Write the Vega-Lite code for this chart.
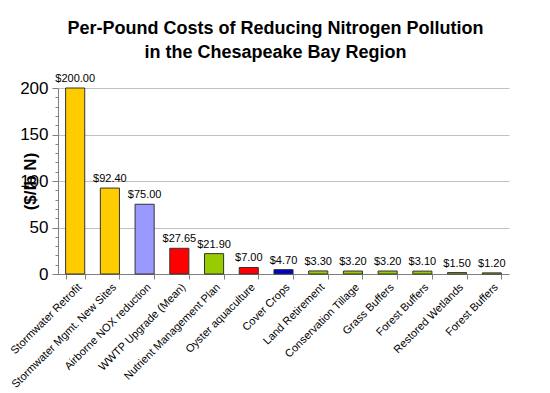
{
  "$schema": "https://vega.github.io/schema/vega-lite/v6.json",
  "autosize": "none",
  "width": 451,
  "height": 186,
  "padding": {"left": 58, "top": 88, "right": 41, "bottom": 119},
  "background": "white",
  "config": {
    "view": {"stroke": null},
    "font": "Liberation Sans"
  },
  "title": {
    "text": ["Per-Pound Costs of Reducing Nitrogen Pollution", "in the Chesapeake Bay Region"],
    "font": "Liberation Sans",
    "fontSize": 18,
    "fontWeight": "bold",
    "color": "black",
    "lineHeight": 24,
    "offset": 11,
    "anchor": "middle",
    "dx": -8
  },
  "data": {
    "values": [
      {"key": "Stormwater Retrofit|1", "cost": 200.0, "color": "#FFCC00"},
      {"key": "Stormwater Mgmt. New Sites|2", "cost": 92.4, "color": "#FFCC00"},
      {"key": "Airborne NOX reduction|3", "cost": 75.0, "color": "#9999FF"},
      {"key": "WWTP Upgrade (Mean)|4", "cost": 27.65, "color": "#FF0000"},
      {"key": "Nutrient Management Plan|5", "cost": 21.9, "color": "#99CC00"},
      {"key": "Oyster aquaculture|6", "cost": 7.0, "color": "#FF0000"},
      {"key": "Cover Crops|7", "cost": 4.7, "color": "#0000CC"},
      {"key": "Land Retirement|8", "cost": 3.3, "color": "#99CC00"},
      {"key": "Conservation Tillage|9", "cost": 3.2, "color": "#99CC00"},
      {"key": "Grass Buffers|10", "cost": 3.2, "color": "#99CC00"},
      {"key": "Forest Buffers|11", "cost": 3.1, "color": "#99CC00"},
      {"key": "Restored Wetlands|12", "cost": 1.5, "color": "#99CC00"},
      {"key": "Forest Buffers|13", "cost": 1.2, "color": "#99CC00"}
    ]
  },
  "encoding": {
    "x": {
      "field": "key",
      "type": "nominal",
      "sort": null,
      "scale": {"paddingInner": 0.45, "paddingOuter": 0.22},
      "axis": {
        "title": null,
        "labelExpr": "split(datum.label, '|')[0]",
        "labelAngle": -45,
        "labelAlign": "right",
        "labelBaseline": "top",
        "labelFontSize": 11,
        "labelColor": "black",
        "labelPadding": 2,
        "labelLimit": 300,
        "tickBand": "extent",
        "tickSize": 5,
        "tickColor": "#808080",
        "domainColor": "#808080"
      }
    },
    "y": {
      "field": "cost",
      "type": "quantitative",
      "scale": {"domain": [0, 200], "nice": false},
      "axis": {
        "title": "($/lb N)",
        "titleFontSize": 17,
        "titleFontWeight": "bold",
        "titleColor": "black",
        "titleX": -28,
        "titleY": 93,
        "titleAngle": -90,
        "titleAlign": "center",
        "titleBaseline": "middle",
        "values": [0, 10, 20, 30, 40, 50, 60, 70, 80, 90, 100, 110, 120, 130, 140, 150, 160, 170, 180, 190, 200],
        "labelExpr": "datum.value % 50 === 0 ? datum.label : ''",
        "labelFontSize": 17,
        "labelColor": "black",
        "labelPadding": 4,
        "tickSize": {"condition": {"test": "datum.value % 50 === 0", "value": 6}, "value": 3},
        "tickColor": "#808080",
        "domainColor": "#808080",
        "grid": true,
        "gridColor": "#C0C0C0",
        "gridOpacity": {"condition": {"test": "datum.value % 50 === 0 && datum.value > 0", "value": 1}, "value": 0}
      }
    }
  },
  "layer": [
    {
      "mark": {"type": "bar", "stroke": "#333333", "strokeWidth": 1},
      "encoding": {
        "color": {"field": "color", "type": "nominal", "scale": null}
      }
    },
    {
      "mark": {"type": "text", "dy": -9, "fontSize": 11, "color": "black"},
      "encoding": {
        "text": {"field": "cost", "type": "quantitative", "format": "$.2f"}
      }
    }
  ]
}
